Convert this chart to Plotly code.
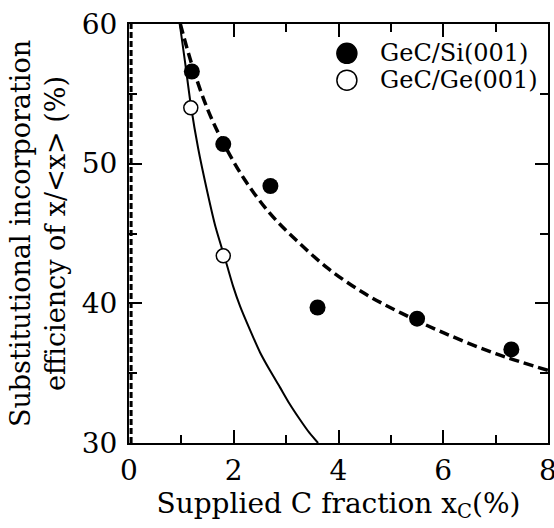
import plotly.graph_objects as go

# Data points
si_x = [1.2, 1.8, 2.7, 3.6, 5.5, 7.3]
si_y = [56.6, 51.4, 48.4, 39.7, 38.9, 36.7]
ge_x = [1.18, 1.8]
ge_y = [54.0, 43.4]

# Fitted curves
dash_x = [0.98, 1.2, 1.5, 1.8, 2.2, 2.7, 3.2, 3.8, 4.5, 5.2, 6.0, 7.0, 8.0]
dash_y = [60.0, 57.1, 53.9, 51.5, 48.9, 46.4, 44.5, 42.5, 40.7, 39.3, 37.9, 36.4, 35.2]
solid_x = [0.97, 1.08, 1.18, 1.32, 1.5, 1.65, 1.865, 1.99, 2.12, 2.31, 2.5, 2.69, 2.88, 3.05, 3.26, 3.45, 3.61]
solid_y = [60.0, 57.0, 54.2, 51.1, 47.9, 45.5, 42.8, 41.2, 39.8, 38.1, 36.5, 35.2, 34.0, 32.9, 31.7, 30.7, 30.0]

x_ticks = [0, 2, 4, 6, 8]
y_ticks = [30, 40, 50, 60]
X_RANGE = [0, 8]
Y_RANGE = [30, 60]

FONT = "DejaVu Serif"

fig = go.Figure()
fig.add_trace(go.Scatter(x=dash_x, y=dash_y, mode="lines", line_shape="spline",
                         line=dict(color="black", width=3.5, dash="10px,5px"),
                         showlegend=False, hoverinfo="skip"))
fig.add_trace(go.Scatter(x=solid_x, y=solid_y, mode="lines", line_shape="spline",
                         line=dict(color="black", width=2, smoothing=0.6),
                         showlegend=False, hoverinfo="skip"))
fig.add_trace(go.Scatter(x=si_x, y=si_y, mode="markers", name="GeC/Si(001)",
                         marker=dict(symbol="circle", size=16, color="black"),
                         showlegend=False))
fig.add_trace(go.Scatter(x=ge_x, y=ge_y, mode="markers", name="GeC/Ge(001)",
                         marker=dict(symbol="circle", size=14, color="white",
                                     line=dict(color="black", width=1.5)),
                         showlegend=False))

# dashed overlay along left axis (as in the scan)
shapes = [dict(type="line", xref="paper", yref="paper", x0=0.005, x1=0.005, y0=0, y1=1,
               line=dict(color="black", width=3, dash="6px,3px"))]
# manual legend
legend_items = [("GeC/Si(001)", "black"), ("GeC/Ge(001)", "white")]
annotations = []
for i, (lab, fill) in enumerate(legend_items):
    yy = 0.93 - i * 0.064
    shapes.append(dict(type="circle", xref="paper", yref="paper", xsizemode="pixel",
                       ysizemode="pixel", xanchor=0.52, yanchor=yy,
                       x0=-10, x1=10, y0=-10, y1=10, fillcolor=fill,
                       line=dict(color="black", width=1.5)))
    annotations.append(dict(x=0.595, y=yy, xref="paper", yref="paper", text=lab,
                            showarrow=False, xanchor="left", yanchor="middle",
                            font=dict(family=FONT, size=24, color="black")))

axis_common = dict(showline=True, linecolor="black", linewidth=2, mirror="ticks",
                   ticks="inside", ticklen=13, tickwidth=1.5, tickcolor="black",
                   showgrid=False, zeroline=False, ticklabeloverflow="allow",
                   tickfont=dict(family=FONT, size=28, color="black"))

fig.update_layout(
    width=554, height=528, autosize=False,
    margin=dict(l=129, r=6, t=24, b=85),
    paper_bgcolor="white", plot_bgcolor="white",
    font=dict(family=FONT, color="black"),
    shapes=shapes, annotations=annotations,
    xaxis=dict(range=X_RANGE, tickvals=x_ticks, ticktext=[str(v) for v in x_ticks],
               minor=dict(dtick=1, ticks="inside", ticklen=8, tickcolor="black", tickwidth=1.5),
               ticklabelstandoff=1, automargin=False,
               title=dict(text="Supplied C fraction x<sub>C</sub>(%)", standoff=2,
                          font=dict(family=FONT, size=28, color="black")),
               **axis_common),
    yaxis=dict(range=Y_RANGE, tickvals=y_ticks, ticktext=[str(v) for v in y_ticks],
               minor=dict(dtick=5, ticks="inside", ticklen=8, tickcolor="black", tickwidth=1.5),
               ticklabelstandoff=4, automargin=False,
               title=dict(text="Substitutional incorporation<br>efficiency of x/&lt;x&gt; (%)",
                          standoff=8, font=dict(family=FONT, size=27, color="black")),
               **axis_common),
)

fig.write_html("out.html", config={"responsive": False})
